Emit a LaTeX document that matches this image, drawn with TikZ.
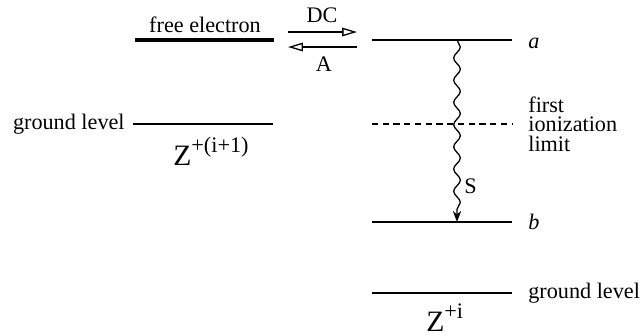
\documentclass[tikz,border=0pt]{standalone}
\usepackage{fontspec}
\setmainfont{Liberation Serif}
\usetikzlibrary{arrows.meta, positioning, decorations.pathmorphing}

\begin{document}
\begin{tikzpicture}[
    x=0.019cm, y=-0.019cm,
    level/.style={line width=0.9pt},
    freelevel/.style={line width=2.2pt},
    limitlevel/.style={line width=0.9pt, dash pattern=on 3.4pt off 2.4pt},
    lbl/.style={inner sep=0pt, font=\fontsize{12}{10.6}\selectfont},
    ionlbl/.style={inner sep=0pt, anchor=base west, font=\fontsize{16}{18}\selectfont},
    rate/.style={line width=0.7pt, -{Triangle[open, length=8pt, width=4.6pt]}},
    cascade/.style={line width=0.7pt, -{Stealth[length=6pt, width=4.5pt]}, decorate,
        decoration={snake, amplitude=1.8pt, segment length=12pt, post length=6pt}}
]
\useasboundingbox (0,0) rectangle (642,335);

% Left: ion Z^{+(i+1)} plus free electron
\coordinate (feL) at (135,40);
\coordinate (feR) at (274,40);
\coordinate (gnL) at (133,124);
\coordinate (gnR) at (273,124);
\draw[freelevel] (feL) -- (feR);
\draw[level] (gnL) -- (gnR);
\node[lbl, anchor=base] (felbl) at (205,32) {free electron};
\node[lbl, left=8 of gnL] (gnlbl) {ground level};
\node[ionlbl] (ionL) at (173,165) {Z\raisebox{7pt}{\fontsize{12}{14}\selectfont +(i+1)}};

% Right: ion Z^{+i}
\coordinate (aL) at (372,40);
\coordinate (aR) at (512,40);
\coordinate (limL) at (372,124);
\coordinate (limR) at (512,124);
\coordinate (bL) at (372,222);
\coordinate (bR) at (512,222);
\coordinate (g0L) at (372,293);
\coordinate (g0R) at (512,293);
\draw[level] (aL) -- (aR);
\draw[limitlevel] (limL) -- (limR);
\draw[level] (bL) -- (bR);
\draw[level] (g0L) -- (g0R);
\node[lbl, right=16 of aR, yshift=-2pt, font=\fontsize{12}{14}\selectfont\itshape] (albl) {a};
\node[lbl, right=16 of limR, align=left] (limlbl) {first\\ionization\\limit};
\node[lbl, right=16 of bR, font=\fontsize{12}{14}\selectfont\itshape] (blbl) {b};
\node[lbl, right=16 of g0R] (g0lbl) {ground level};
\node[ionlbl] (ionR) at (426,331) {Z\raisebox{7pt}{\fontsize{12}{14}\selectfont +i}};

% DC / A between free electron and level a
\coordinate (dcS) at (288,32);
\coordinate (dcE) at (357,32);
\coordinate (auS) at (357,47);
\coordinate (auE) at (288,47);
\draw[rate] (dcS) -- (dcE);
\draw[rate] (auS) -- (auE);
\node[lbl, anchor=base] (dclbl) at (322,22) {DC};
\node[lbl, anchor=base] (albla) at (324,71) {A};

% stabilisation a -> b
\coordinate (sS) at (457,40);
\coordinate (sE) at (457,222);
\draw[cascade] (sS) -- (sE);
\node[lbl, anchor=west] (slbl) at (464,186) {S};

\end{tikzpicture}
\end{document}
